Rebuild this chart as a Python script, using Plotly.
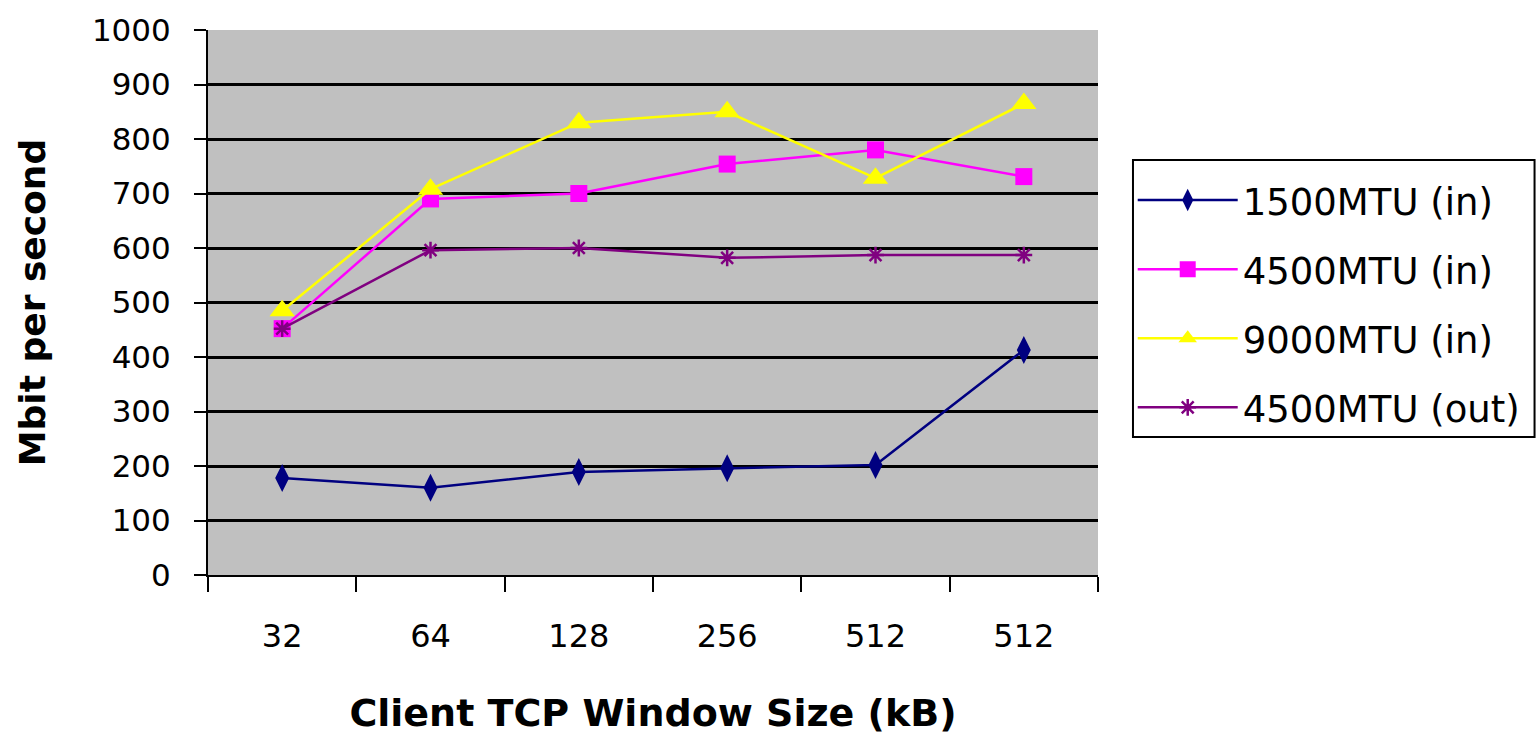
import plotly.graph_objects as go

# Client TCP window sizes (the last two runs both used 512 kB)
window_labels = ["32", "64", "128", "256", "512", "512"]
positions = [0, 1, 2, 3, 4, 5]

mtu1500_in = [178, 160, 189, 196, 202, 413]
mtu4500_in = [452, 690, 700, 754, 780, 731]
mtu9000_in = [485, 708, 830, 850, 728, 865]
mtu4500_out = [452, 596, 600, 582, 587, 587]

y_ticks = list(range(0, 1001, 100))

FONT = "DejaVu Sans"

series = [
    ("1500MTU (in)", mtu1500_in, "#000080", dict(symbol="diamond-tall", size=20)),
    ("4500MTU (in)", mtu4500_in, "#FF00FF", dict(symbol="square", size=17)),
    ("9000MTU (in)", mtu9000_in, "#FFFF00", dict(symbol="triangle-up", size=22)),
    ("4500MTU (out)", mtu4500_out, "#800080",
     dict(symbol="asterisk-open", size=14, line=dict(width=2.5, color="#800080"))),
]

fig = go.Figure()
for name, values, color, marker in series:
    fig.add_trace(go.Scatter(
        x=positions, y=values, name=name, legendgroup=name,
        mode="lines+markers",
        line=dict(color=color, width=2.5),
        marker=dict(color=color, **marker),
    ))

fig.update_layout(
    width=1538, height=735,
    margin=dict(l=208, r=440, t=30, b=160, autoexpand=False),
    paper_bgcolor="white",
    plot_bgcolor="#C0C0C0",
    font=dict(family=FONT, color="black", size=31),
    showlegend=True,
    legend=dict(
        x=1.039, y=0.744, xanchor="left", yanchor="top",
        bgcolor="rgba(0,0,0,0)", borderwidth=0,
        font=dict(family=FONT, size=37),
        tracegroupgap=18, itemwidth=100,
    ),
    # legend frame
    shapes=[dict(type="rect", xref="paper", yref="paper",
                 x0=1.0393, x1=1.4905, y0=0.2532, y1=0.7615,
                 line=dict(color="black", width=2), fillcolor="rgba(0,0,0,0)",
                 layer="above")],
)

fig.update_xaxes(
    range=[-0.5, 5.5],
    tickmode="array", tickvals=positions, ticktext=window_labels,
    ticks="", ticklabelstandoff=32,
    showgrid=False, zeroline=False,
    showline=True, linecolor="black", linewidth=2,
    minor=dict(tickmode="array", tickvals=[p + 0.5 for p in [-1] + positions],
               ticks="outside", ticklen=15, tickwidth=2, tickcolor="black",
               showgrid=False),
    tickfont=dict(size=32),
    title=dict(text="<b>Client TCP Window Size (kB)</b>",
               font=dict(size=38), standoff=48),
)

fig.update_yaxes(
    range=[0, 1000],
    tickmode="array", tickvals=y_ticks,
    ticks="outside", ticklen=12, tickwidth=2, tickcolor="black",
    ticklabelstandoff=17,
    showgrid=True, gridcolor="black", gridwidth=3,
    zeroline=False,
    showline=True, linecolor="black", linewidth=2,
    tickfont=dict(size=31),
    title=dict(text="<b>Mbit per second</b>", font=dict(size=36), standoff=35),
)

fig.write_html("out.html")
